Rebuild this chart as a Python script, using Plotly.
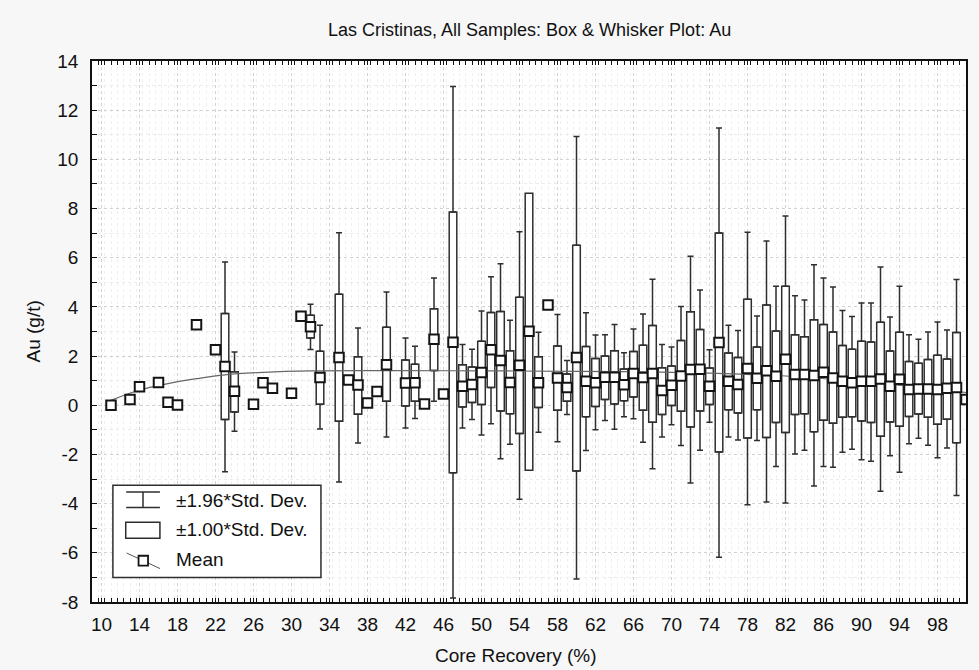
import plotly.graph_objects as go

# ---------------- data ----------------
mean_categories = [11, 13, 14, 16, 17, 18, 20, 22, 23, 24,
                   26, 27, 28, 30, 31, 32, 33, 35, 36, 37,
                   38, 39, 40, 42, 43, 44, 45, 46, 47, 48,
                   49, 50, 51, 52, 53, 54, 55, 56, 57, 58,
                   59, 60, 61, 62, 63, 64, 65, 66, 67, 68,
                   69, 70, 71, 72, 73, 74, 75, 76, 77, 78,
                   79, 80, 81, 82, 83, 84, 85, 86, 87, 88,
                   89, 90, 91, 92, 93, 94, 95, 96, 97, 98,
                   99, 100, 101]
mean_values = [0.00, 0.23, 0.75, 0.93, 0.12, 0.01, 3.27, 2.26, 1.58, 0.57,
               0.04, 0.92, 0.69, 0.49, 3.62, 3.19, 1.13, 1.94, 1.03, 0.82,
               0.09, 0.56, 1.65, 0.91, 0.92, 0.05, 2.68, 0.46, 2.56, 0.77,
               0.84, 1.33, 2.26, 1.82, 0.93, 1.63, 3.01, 0.92, 4.08, 1.11,
               0.72, 1.94, 0.98, 0.92, 1.14, 1.14, 0.83, 1.29, 1.13, 1.29,
               0.60, 0.81, 1.19, 1.45, 1.46, 0.77, 2.55, 0.98, 0.84, 1.50,
               1.10, 1.40, 1.18, 1.87, 1.25, 1.25, 1.21, 1.34, 1.11, 0.98,
               0.92, 0.98, 0.98, 1.07, 0.77, 1.06, 0.64, 0.66, 0.66, 0.64,
               0.69, 0.72, 0.23]

box_categories = [23, 24, 32, 33, 35, 37, 40, 42, 43, 45,
                  47, 48, 49, 50, 51, 52, 53, 54, 55, 56,
                  58, 59, 60, 61, 62, 63, 64, 65, 66, 67,
                  68, 69, 70, 71, 72, 73, 74, 75, 76, 77,
                  78, 79, 80, 81, 82, 83, 84, 85, 86, 87,
                  88, 89, 90, 91, 92, 93, 94, 95, 96, 97,
                  98, 99, 100]
box_upper = [3.73, 1.36, 3.66, 2.20, 4.51, 1.97, 3.17, 1.84, 1.67, 3.93,
             7.86, 1.65, 1.56, 2.60, 3.77, 3.81, 2.22, 4.39, 8.62, 1.97,
             2.41, 1.27, 6.51, 2.39, 1.90, 2.00, 2.22, 1.48, 2.19, 2.44,
             3.24, 1.53, 1.60, 2.63, 3.80, 3.08, 1.52, 7.01, 2.13, 1.94,
             4.31, 2.37, 4.08, 3.02, 4.84, 2.87, 2.79, 3.48, 3.28, 2.98,
             2.43, 2.28, 2.60, 2.57, 3.38, 2.21, 2.97, 1.78, 1.71, 1.86,
             2.03, 1.88, 2.96]
box_lower = [-0.58, -0.27, 2.74, 0.04, -0.65, -0.37, 0.16, -0.03, 0.16, 1.41,
             -2.74, -0.07, 0.11, 0.03, 0.72, -0.23, -0.34, -1.15, -2.64, -0.09,
             -0.20, 0.16, -2.67, -0.47, -0.05, 0.23, 0.05, 0.18, 0.34, -0.20,
             -0.69, -0.38, -0.01, -0.24, -0.88, -0.23, 0.03, -1.90, -0.18, -0.31,
             -1.33, -0.18, -1.31, -0.70, -1.11, -0.38, -0.34, -1.08, -0.61, -0.73,
             -0.49, -0.47, -0.64, -0.70, -1.26, -0.68, -0.85, -0.46, -0.35, -0.49,
             -0.77, -0.57, -1.52]
whisker_upper = [5.83, 2.17, 4.11, 3.25, 7.02, 3.14, 4.61, 2.74, 2.40, 5.18,
                 12.96, 2.47, 2.28, 3.83, 5.23, 5.75, 3.46, 7.06, None, 2.97,
                 3.69, 1.82, 10.93, 3.76, 2.86, 2.87, 3.28, 2.14, 3.10, 3.71,
                 5.12, 2.47, 2.37, 4.02, 6.06, 4.69, 2.26, 11.28, 3.25, 3.04,
                 7.04, 3.63, 6.68, 4.84, 7.70, 4.45, 4.28, 5.71, 5.18, 4.81,
                 3.85, 3.61, 4.16, 4.16, 5.62, 3.59, 4.84, 2.87, 2.68, 2.98,
                 3.39, 3.06, 5.11]
whisker_lower = [-2.70, -1.06, 2.27, -0.96, -3.12, -1.53, -1.29, -0.92, -0.54, 0.16,
                 -7.84, -0.92, -0.58, -1.21, -0.75, -2.17, -1.59, -3.82, None, -1.10,
                 -1.48, -0.38, -7.06, -1.84, -1.00, -0.62, -0.98, -0.47, -0.55, -1.50,
                 -2.58, -1.29, -0.79, -1.64, -3.16, -1.83, -0.69, -6.18, -1.29, -1.41,
                 -4.05, -1.43, -3.93, -2.49, -3.97, -1.98, -1.83, -3.28, -2.49, -2.52,
                 -1.91, -1.79, -2.22, -2.28, -3.50, -2.05, -2.72, -1.56, -1.34, -1.63,
                 -2.13, -1.74, -3.67]

# smooth fit through the means
fit_x = [11, 14, 17, 20, 23, 27, 32, 40, 50, 60, 67, 74, 81, 88, 95, 101]
fit_y = [0.20, 0.62, 0.88, 1.08, 1.24, 1.34, 1.40, 1.41, 1.40, 1.38, 1.36, 1.31, 1.21, 1.02, 0.78, 0.52]

x_tick_values = [10, 14, 18, 22, 26, 30, 34, 38, 42, 46, 50, 54, 58, 62, 66, 70, 74, 78, 82, 86, 90, 94, 98]
x_tick_labels = ["10", "14", "18", "22", "26", "30", "34", "38", "42", "46", "50", "54",
                 "58", "62", "66", "70", "74", "78", "82", "86", "90", "94", "98"]
y_tick_values = [-8, -6, -4, -2, 0, 2, 4, 6, 8, 10, 12, 14]
y_tick_labels = ["-8", "-6", "-4", "-2", "0", "2", "4", "6", "8", "10", "12", "14"]

title_text = "Las Cristinas, All Samples: Box & Whisker Plot: Au"
x_title = "Core Recovery (%)"
y_title = "Au (g/t)"
legend_labels = ["±1.96*Std. Dev.", "±1.00*Std. Dev.", "Mean"]

# ---------------- figure ----------------
FONT = "Liberation Sans, Arial, Helvetica, sans-serif"
INK = "#2e2e2e"

fig = go.Figure()

up_x, up_base, up_len = [], [], []
lo_x, lo_base, lo_len = [], [], []
for c, bh, bl, wh, wl in zip(box_categories, box_upper, box_lower, whisker_upper, whisker_lower):
    if wh is not None:
        up_x.append(c); up_base.append(bh); up_len.append(wh - bh)
    if wl is not None:
        lo_x.append(c); lo_base.append(bl); lo_len.append(bl - wl)

# boxes (+/- 1 SD)
fig.add_trace(go.Bar(
    x=box_categories, base=box_lower,
    y=[h - l for h, l in zip(box_upper, box_lower)],
    width=0.8, marker=dict(color="white", line=dict(color=INK, width=1.5)),
    hoverinfo="skip", showlegend=False))

# whiskers (+/- 1.96 SD)
wstyle = dict(type="data", symmetric=False, color=INK, thickness=1.5, width=3)
fig.add_trace(go.Scatter(
    x=up_x, y=up_base, mode="markers", marker=dict(size=1, opacity=0),
    error_y=dict(array=up_len, arrayminus=[0] * len(up_len), **wstyle),
    hoverinfo="skip", showlegend=False))
fig.add_trace(go.Scatter(
    x=lo_x, y=lo_base, mode="markers", marker=dict(size=1, opacity=0),
    error_y=dict(array=[0] * len(lo_len), arrayminus=lo_len, **wstyle),
    hoverinfo="skip", showlegend=False))

# fitted curve
fig.add_trace(go.Scatter(
    x=fit_x, y=fit_y, mode="lines", line=dict(color="#666666", width=1.2, shape="spline"),
    hoverinfo="skip", showlegend=False))

# means
fig.add_trace(go.Scatter(
    x=mean_categories, y=mean_values, mode="markers", cliponaxis=True,
    marker=dict(symbol="square", size=9.5, color="white", line=dict(color="#141414", width=2)),
    showlegend=False))

# ---------------- legend (drawn) ----------------
shapes = [
    dict(type="rect", xref="x", yref="y", x0=11.2, x1=33.1, y0=-7.0, y1=-3.25,
         fillcolor="white", line=dict(color=INK, width=1.5), layer="above"),
    dict(type="line", xref="x", yref="y", x0=12.6, x1=16.15, y0=-3.53, y1=-3.53,
         line=dict(color=INK, width=1.5), layer="above"),
    dict(type="line", xref="x", yref="y", x0=12.6, x1=16.15, y0=-4.16, y1=-4.16,
         line=dict(color=INK, width=1.5), layer="above"),
    dict(type="line", xref="x", yref="y", x0=14.37, x1=14.37, y0=-3.53, y1=-4.16,
         line=dict(color=INK, width=1.5), layer="above"),
    dict(type="rect", xref="x", yref="y", x0=12.55, x1=16.15, y0=-5.41, y1=-4.76,
         fillcolor="white", line=dict(color=INK, width=1.5), layer="above"),
    dict(type="line", xref="x", yref="y", x0=12.65, x1=16.16, y0=-6.01, y1=-6.64,
         line=dict(color="#555555", width=1), layer="above"),
    dict(type="rect", xref="x", yref="y", x0=13.9, x1=14.9, y0=-6.52, y1=-6.12,
         fillcolor="white", line=dict(color="#161616", width=1.8), layer="above"),
]
annotations = []
for lab, yy in zip(legend_labels, [-3.88, -5.06, -6.28]):
    annotations.append(dict(text=lab, xref="x", yref="y", x=17.6, y=yy, xanchor="left",
                            yanchor="middle", showarrow=False, font=dict(size=19, color="#111")))

annotations += [
    dict(text=title_text, xref="paper", yref="paper", x=0.5, y=(601.7 - 30) / 541,
         xanchor="center", yanchor="middle", showarrow=False, font=dict(size=18, color="#111")),
    dict(text=x_title, xref="paper", yref="paper", x=(516 - 92) / 874, y=(601.7 - 655) / 541,
         xanchor="center", yanchor="middle", showarrow=False, font=dict(size=19, color="#111")),
    dict(text=y_title, xref="paper", yref="paper", x=(33 - 92) / 874, y=0.5, textangle=-90,
         xanchor="center", yanchor="middle", showarrow=False, font=dict(size=19, color="#111")),
]

fig.update_layout(
    width=979, height=670,
    margin=dict(l=92, r=13, t=61, b=68),
    paper_bgcolor="#f7f7f7", plot_bgcolor="white",
    barmode="overlay", showlegend=False,
    font=dict(family=FONT, size=19, color="#111"),
    shapes=shapes, annotations=annotations,
    xaxis=dict(range=[9, 101], tickmode="array", tickvals=x_tick_values, ticktext=x_tick_labels,
               ticks="inside", ticklen=4, tickcolor="#111", tickwidth=1,
               showline=True, linecolor="#111", linewidth=1.5, mirror="allticks",
               showgrid=True, gridcolor="#d2d2d2", griddash="dot", gridwidth=1,
               zeroline=False, ticklabelstandoff=4,
               minor=dict(tickmode="linear", tick0=9, dtick=2 / 3, ticks="inside", ticklen=4,
                          tickcolor="#111", showgrid=True, gridcolor="#efefef", griddash="dot")),
    yaxis=dict(range=[-8, 14], tickmode="array", tickvals=y_tick_values, ticktext=y_tick_labels,
               ticks="inside", ticklen=5, tickcolor="#111", tickwidth=1,
               showline=True, linecolor="#111", linewidth=1.5, mirror=True,
               showgrid=True, gridcolor="#d2d2d2", griddash="dot", gridwidth=1,
               zeroline=False, ticklabelstandoff=8,
               minor=dict(tickmode="linear", tick0=0, dtick=1, ticks="inside", ticklen=5,
                          tickcolor="#111", showgrid=True, gridcolor="#ebebeb", griddash="dot")),
    yaxis2=dict(overlaying="y", side="right", range=[0.21, 27.95], tickmode="linear", tick0=0, dtick=1,
                ticks="inside", ticklen=5, tickcolor="#111", showticklabels=False,
                showgrid=False, zeroline=False, showline=False),
)

fig.write_html("out.html")
